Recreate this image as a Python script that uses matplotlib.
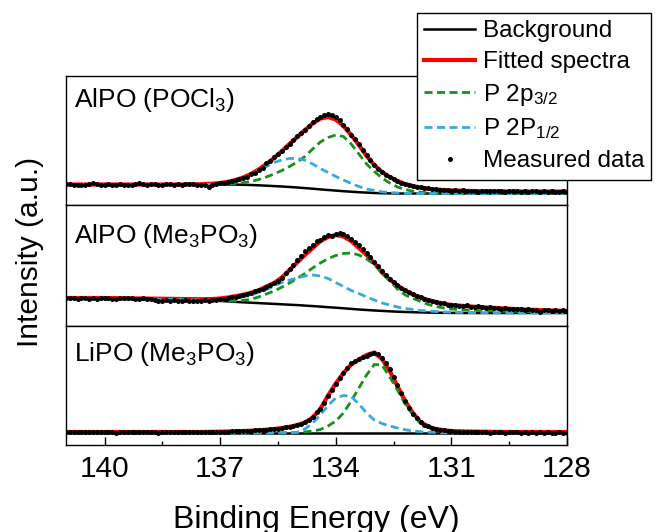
import numpy as np
import matplotlib
matplotlib.use("Agg")
import matplotlib.pyplot as plt
from matplotlib.lines import Line2D
from matplotlib.ticker import FixedLocator

plt.rcParams['font.family'] = ['Liberation Sans', 'DejaVu Sans']
plt.rcParams['mathtext.fontset'] = 'custom'
plt.rcParams['mathtext.rm'] = 'Liberation Sans'
plt.rcParams['mathtext.it'] = 'Liberation Sans:italic'
plt.rcParams['mathtext.default'] = 'regular'

# ---------------- data (intensity in arbitrary units) ----------------
E_fit = [141.0, 140.0, 139.0, 138.0, 137.5, 137.2,
         137.0, 136.8, 136.6, 136.4, 136.2, 136.0, 135.8, 135.6, 135.4, 135.2,
         135.0, 134.8, 134.6, 134.4, 134.2, 134.0, 133.8, 133.6, 133.4, 133.2,
         133.0, 132.8, 132.6, 132.4, 132.2, 132.0, 131.8, 131.6, 131.4, 131.2,
         131.0, 130.6, 130.2, 129.6, 129.0, 128.0]

E_data = np.linspace(141.0, 128.0, 131)

sample_labels = ["AlPO (POCl$_3$)", "AlPO (Me$_3$PO$_3$)", "LiPO (Me$_3$PO$_3$)"]

# --- AlPO (POCl3)
bg1 = [20.5, 20.5, 20.5, 20.5, 20.5, 20.5,
       20.5, 20.5, 20.4, 20.2, 20.0, 19.7, 19.3, 18.9, 18.5, 18.0,
       17.5, 16.9, 16.3, 15.6, 15.0, 14.4, 13.8, 13.3, 12.8, 12.4,
       12.0, 11.8, 11.6, 11.5, 11.5, 11.5, 11.5, 11.5, 11.5, 11.5,
       11.5, 11.5, 11.5, 11.5, 11.5, 11.5]
fit1 = [20.5, 20.5, 20.5, 20.5, 20.8, 21.3,
        22.0, 23.2, 25.0, 27.5, 31.0, 35.5, 41.0, 47.0, 54.0, 61.0,
        68.0, 75.0, 81.5, 86.5, 88.0, 85.5, 79.0, 70.0, 60.0, 49.0,
        40.0, 33.0, 28.0, 24.0, 21.0, 19.0, 17.5, 16.3, 15.5, 15.0,
        14.6, 14.1, 13.8, 13.6, 13.5, 13.5]
p32_1 = [20.5, 20.5, 20.5, 20.5, 20.5, 20.5,
         20.6, 20.8, 21.5, 22.3, 23.5, 25.5, 28.0, 31.0, 34.5, 38.5,
         43.0, 48.5, 56.0, 63.0, 67.5, 70.0, 68.5, 61.0, 51.0, 41.0,
         33.5, 27.0, 22.0, 18.0, 15.5, 13.8, 12.8, 12.2, 11.8, 11.6,
         11.5, 11.5, 11.5, 11.5, 11.5, 11.5]
p12_1 = [20.5, 20.5, 20.5, 20.5, 20.5, 20.8,
         21.3, 22.3, 24.0, 26.5, 30.0, 34.0, 38.5, 42.5, 45.0, 46.5,
         46.7, 44.8, 41.0, 36.5, 32.5, 28.5, 25.0, 21.5, 18.5, 16.0,
         14.5, 13.2, 12.5, 12.0, 11.7, 11.5, 11.5, 11.5, 11.5, 11.5,
         11.5, 11.5, 11.5, 11.5, 11.5, 11.5]
meas1 = [20.8, 21.0, 20.3, 20.1, 20.5, 20.2, 20.6, 22.0, 20.9, 20.4,
         20.2, 20.6, 20.0, 20.3, 20.8, 19.7, 20.2, 20.5, 21.3, 22.0,
         20.9, 20.3, 20.7, 21.1, 20.4, 20.0, 20.6, 21.0, 20.5, 20.8,
         20.3, 20.6, 20.9, 20.7, 20.4, 20.5, 19.8, 18.5, 19.6, 21.0,
         22.0, 22.4, 23.0, 24.0, 24.6, 26.0, 27.2, 28.5, 30.8, 32.5,
         35.0, 37.5, 41.5, 44.0, 47.5, 51.0, 53.5, 58.0, 61.0, 64.5,
         68.5, 72.0, 74.5, 79.0, 82.5, 85.5, 88.0, 90.0, 90.5, 89.5,
         87.5, 84.5, 80.0, 76.0, 70.0, 65.5, 60.5, 54.5, 50.0, 44.5,
         40.0, 36.5, 33.5, 30.0, 28.5, 26.5, 24.5, 22.5, 21.5, 20.5,
         19.5, 18.5, 18.0, 17.0, 16.8, 16.0, 15.8, 15.2, 15.5, 14.8,
         14.5, 15.0, 14.2, 14.6, 13.8, 14.4, 14.0, 13.5, 14.3, 13.9,
         14.1, 13.6, 14.5, 13.8, 13.4, 14.0, 13.7, 14.2, 13.5, 13.9,
         13.3, 14.0, 13.6, 13.2, 14.1, 13.5, 13.8, 13.4, 13.0, 13.7, 13.5]

# --- AlPO (Me3PO3)
bg2 = [27.5, 27.3, 27.0, 26.3, 25.8, 25.4,
       25.1, 24.6, 24.1, 23.7, 23.3, 22.9, 22.5, 22.1, 21.7, 21.3,
       20.9, 20.4, 19.9, 19.4, 18.8, 18.3, 17.7, 17.1, 16.5, 16.0,
       15.5, 15.1, 14.7, 14.3, 14.0, 13.8, 13.6, 13.4, 13.3, 13.2,
       13.1, 13.0, 13.0, 13.0, 13.0, 13.0]
fit2 = [28.0, 28.0, 27.5, 27.0, 26.8, 27.0,
        27.5, 28.5, 29.8, 31.3, 33.2, 35.8, 39.5, 43.0, 48.5, 56.0,
        63.5, 71.0, 78.0, 84.8, 89.0, 91.0, 89.5, 85.0, 78.0, 71.0,
        63.0, 53.5, 46.5, 40.5, 35.5, 31.5, 28.5, 26.0, 24.0, 22.3,
        21.0, 19.8, 18.7, 17.5, 16.3, 15.0]
p32_2 = [27.5, 27.3, 27.0, 26.3, 25.8, 25.5,
         25.3, 25.0, 24.9, 25.6, 26.8, 29.0, 32.0, 35.0, 38.8, 43.0,
         47.7, 52.5, 58.0, 63.0, 67.3, 70.5, 72.5, 73.0, 71.0, 67.0,
         61.5, 53.0, 45.0, 37.0, 31.0, 27.7, 24.5, 21.5, 19.5, 18.0,
         17.0, 16.0, 15.3, 14.8, 14.5, 14.2]
p12_2 = [27.5, 27.3, 27.0, 26.3, 25.8, 25.6,
         25.8, 26.6, 27.8, 29.2, 31.0, 33.5, 36.5, 40.0, 43.5, 46.0,
         48.0, 50.0, 51.0, 50.0, 47.5, 43.5, 39.5, 35.5, 32.5, 29.0,
         26.0, 23.0, 21.0, 19.0, 17.5, 16.5, 15.5, 15.0, 14.5, 14.0,
         13.8, 13.5, 13.3, 13.0, 13.0, 13.0]
meas2 = [28.2, 27.6, 28.0, 27.3, 27.8, 28.4, 27.5, 27.9, 27.2, 28.0,
         27.7, 28.3, 27.4, 27.0, 27.8, 28.5, 27.6, 27.9, 27.1, 27.5,
         28.0, 27.3, 26.8, 26.2, 25.4, 24.8, 25.6, 25.2, 25.9, 25.5,
         24.9, 25.7, 25.3, 24.6, 25.5, 25.1, 25.8, 25.4, 26.0, 26.5,
         27.0, 27.4, 28.0, 28.6, 29.3, 30.0, 31.0, 32.0, 33.5, 34.6,
         36.0, 37.5, 39.5, 41.0, 43.5, 45.5, 48.5, 53.0, 57.0, 61.5,
         66.0, 70.0, 75.0, 78.5, 81.5, 85.0, 86.0, 89.5, 91.5, 90.0,
         92.5, 93.5, 92.0, 90.5, 87.0, 84.5, 81.0, 77.0, 73.5, 69.0,
         64.5, 60.0, 55.0, 51.5, 47.0, 44.5, 41.5, 38.0, 36.0, 34.0,
         32.0, 30.5, 29.0, 27.5, 26.5, 25.5, 24.0, 23.5, 22.8, 21.5,
         21.0, 21.5, 20.4, 20.0, 20.6, 19.5, 19.0, 19.8, 18.6, 18.2,
         18.8, 17.9, 18.3, 17.5, 17.8, 17.0, 17.4, 16.8, 17.1, 16.4,
         16.8, 16.0, 16.5, 14.5, 15.8, 16.2, 15.5, 15.9, 15.2, 15.6, 15.0]

# --- LiPO (Me3PO3)
bg3 = [12.0] * 42
fit3 = [13.0, 13.0, 13.0, 13.0, 13.0, 13.2,
        13.3, 13.5, 13.7, 14.0, 14.3, 14.8, 15.3, 16.0, 17.0, 18.2,
        20.0, 22.5, 27.5, 36.0, 49.5, 61.5, 72.0, 80.5, 85.5, 90.0,
        92.5, 86.0, 74.0, 59.0, 44.0, 32.0, 23.0, 18.5, 16.0, 14.8,
        14.0, 13.5, 13.3, 13.0, 13.0, 13.0]
p32_3 = [12.0, 12.0, 12.0, 12.0, 12.0, 12.0,
         12.0, 12.0, 12.0, 12.0, 12.0, 12.0, 12.0, 12.1, 12.2, 12.3,
         12.5, 13.0, 14.0, 15.5, 19.0, 24.0, 32.0, 44.0, 57.0, 70.0,
         80.5, 80.0, 68.0, 55.0, 41.0, 30.0, 21.5, 17.5, 15.0, 13.8,
         13.0, 12.5, 12.2, 12.0, 12.0, 12.0]
p12_3 = [12.0, 12.0, 12.0, 12.0, 12.0, 12.0,
         12.0, 12.0, 12.0, 12.0, 12.0, 12.0, 12.0, 12.1, 12.2, 12.3,
         12.8, 16.0, 22.0, 30.0, 39.5, 47.0, 49.5, 48.5, 41.0, 32.0,
         25.0, 21.5, 19.0, 17.0, 15.3, 14.0, 13.3, 12.8, 12.5, 12.3,
         12.0, 12.0, 12.0, 12.0, 12.0, 12.0]
meas3 = [13.2, 12.8, 13.0, 12.6, 13.1, 12.9, 12.7, 13.2, 12.8, 13.0,
         12.6, 13.1, 12.9, 12.5, 13.0, 12.8, 13.3, 12.7, 12.9, 13.1,
         12.6, 12.8, 13.2, 12.9, 12.4, 12.8, 13.1, 12.7, 12.9, 13.2,
         12.8, 12.6, 13.0, 12.9, 13.2, 12.7, 13.0, 13.3, 13.0, 13.4,
         13.2, 13.5, 13.3, 13.8, 13.6, 14.0, 13.8, 14.3, 14.1, 14.6,
         14.8, 15.0, 15.4, 15.6, 16.0, 16.5, 17.0, 17.6, 18.4, 19.2,
         20.2, 21.2, 22.8, 25.0, 28.0, 33.0, 36.5, 42.0, 49.0, 55.0,
         61.5, 67.5, 72.5, 77.5, 82.0, 84.0, 86.0, 88.0, 89.5, 91.5,
         92.5, 91.0, 87.5, 82.0, 76.0, 68.5, 60.5, 52.0, 44.0, 37.5,
         31.5, 27.0, 23.5, 20.5, 18.8, 17.2, 16.0, 15.2, 14.6, 14.0,
         13.8, 13.4, 13.1, 13.3, 12.8, 13.0, 12.7, 13.1, 12.6, 12.9,
         12.5, 12.8, 13.0, 12.6, 12.4, 12.9, 12.6, 12.8, 12.3, 12.7,
         12.5, 12.8, 12.4, 12.6, 12.2, 12.7, 12.5, 12.3, 12.6, 12.4, 12.5]

panels = [
    (bg1, fit1, p32_1, p12_1, meas1),
    (bg2, fit2, p32_2, p12_2, meas2),
    (bg3, fit3, p32_3, p12_3, meas3),
]

x_major = [140, 137, 134, 131, 128]
x_minor = [138.5, 135.5, 132.5, 129.5]

legend_labels = ["Background", "Fitted spectra", "P 2p$_{3/2}$",
                 "P 2P$_{1/2}$", "Measured data"]

# ---------------- styling / layout ----------------
W, H = 658, 532
fig = plt.figure(figsize=(W / 100, H / 100), dpi=100)

# pixel bounds of the panels (top, bottom)
bounds = [(76, 205), (205, 326), (326, 445)]
left_px, right_px = 66, 567
label_pos = [0.76, 0.686, 0.706]

C_GREEN = '#17901c'
C_BLUE = '#37aadb'
dash = (0, (2.9, 1.6))

axes = []
for i, ((top, bot), (bg, fit, p32, p12, meas)) in enumerate(zip(bounds, panels)):
    ax = fig.add_axes([left_px / W, 1 - bot / H, (right_px - left_px) / W, (bot - top) / H])
    ax.plot(E_fit, bg, color='black', lw=1.8, zorder=2)
    ax.plot(E_fit, fit, color='red', lw=3.0, zorder=3)
    ax.plot(E_fit, p32, color=C_GREEN, lw=2.0, ls=dash, zorder=4)
    ax.plot(E_fit, p12, color=C_BLUE, lw=2.0, ls=dash, zorder=5)
    ax.plot(E_data, meas, 'o', color='black', ms=3.6, mew=0, zorder=6)
    ax.set_xlim(141, 128)
    ax.set_ylim(0, bot - top)
    ax.set_yticks([])
    for s in ax.spines.values():
        s.set_linewidth(1.0)
    ax.xaxis.set_major_locator(FixedLocator(x_major))
    ax.xaxis.set_minor_locator(FixedLocator(x_minor))
    if i < 2:
        ax.tick_params(axis='x', which='both', bottom=False, labelbottom=False)
    else:
        ax.tick_params(axis='x', which='major', direction='in', length=5.8,
                       width=1.0, labelsize=21.5, pad=7)
        ax.tick_params(axis='x', which='minor', direction='in', length=2.6, width=1.0)
    ax.text(0.016, label_pos[i], sample_labels[i], transform=ax.transAxes,
            fontsize=19, va='baseline', ha='left')
    axes.append(ax)

fig.text(316.5 / W, 1 - 528 / H, "Binding Energy (eV)", fontsize=23,
         ha='center', va='baseline')
fig.text(30 / W, 1 - 252 / H, "Intensity (a.u.)", fontsize=21.5,
         ha='center', va='center', rotation=90)

handles = [
    Line2D([], [], color='black', lw=1.8),
    Line2D([], [], color='red', lw=3.0),
    Line2D([], [], color=C_GREEN, lw=2.0, ls=dash),
    Line2D([], [], color=C_BLUE, lw=2.0, ls=dash),
    Line2D([], [], color='black', marker='o', ls='none', ms=3.6, mew=0),
]
leg = fig.legend(handles, legend_labels, loc='upper left',
                 bbox_to_anchor=(417 / W, 1 - 13 / H),
                 bbox_transform=fig.transFigure, borderaxespad=0,
                 fontsize=17.5, frameon=True, fancybox=False,
                 edgecolor='black', framealpha=1, borderpad=0.3,
                 handlelength=2.1, handletextpad=0.3, labelspacing=0.36)
leg.get_frame().set_linewidth(1.0)

fig.savefig("out.png", dpi=100)
